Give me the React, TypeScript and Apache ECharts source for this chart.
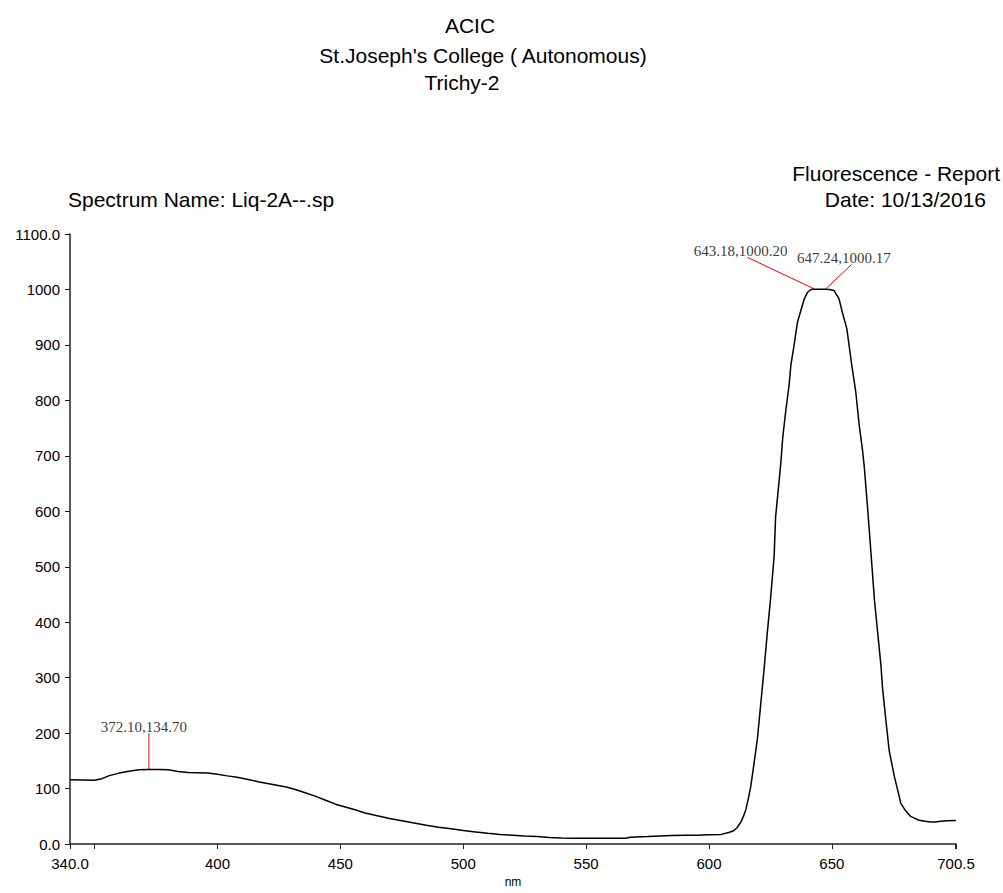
import React, { useEffect, useRef } from "react";
import * as echarts from "echarts";

// Spectrum: wavelength (nm) and intensity
const wavelengths: number[] = [
  340, 345, 350, 353, 356, 360, 364, 368, 372.1, 376, 380, 384, 388, 392, 396, 400,
  404, 408, 412, 417, 422, 428, 432, 436, 440, 444, 448, 452, 456, 460, 465, 470,
  475, 480, 485, 490, 495, 500, 505, 510, 515, 520, 525, 530, 535, 540, 545, 550,
  555, 560, 566, 568, 575, 580, 585, 590, 595, 600, 605, 608, 610, 611.5, 613, 614,
  615, 616, 617, 618, 619.7, 621, 622.4, 623.7, 625, 626.5, 627.1, 628.2, 629.2, 630,
  631.2, 632.6, 633.3, 634.6, 636, 637.1, 638.7, 640.1, 641.5, 643.18, 645, 647.24,
  649, 650.9, 652.9, 654.3, 656.1, 657, 658.1, 659.7, 661.1, 662.5, 663.2, 664.6,
  665.9, 667.3, 669, 670, 670.6, 672, 673.3, 675.4, 677.4, 678, 680, 682, 685.5, 688,
  690.2, 692, 694.4, 697, 700.5,
];
const intensities: number[] = [
  116, 115.5, 115, 118, 123.5, 128, 131.5, 134, 134.7, 134.5, 134, 131, 129, 128.5, 128, 126,
  123, 120.5, 117, 112, 108, 103, 98, 92, 86, 79, 72, 67, 62, 56, 51, 46,
  42, 38, 34, 30.5, 27.5, 24.5, 22, 19.5, 17.5, 16, 14.5, 13.5, 12, 11, 10.5, 10.4,
  10.4, 10.4, 10.4, 12.5, 13.5, 14.5, 15.5, 16, 16, 17, 17.5, 21, 24, 30, 40, 50,
  62, 82, 104, 135, 190, 250, 315, 380, 440, 519, 590, 640, 686, 733,
  780, 828, 863, 899, 941, 958, 982, 995, 1000, 1000.2, 1000.2, 1000.17,
  1000.1, 998, 983, 958, 929, 899, 863, 816, 756, 709, 679, 602,
  525, 441, 365, 320, 282, 222, 169, 122, 86, 74, 60, 50, 43, 41,
  40, 40, 41.4, 42, 42.4,
];

// Peak picks
const peakX: number[] = [372.1, 643.18, 647.24];
const peakY: number[] = [134.7, 1000.2, 1000.17];
const peakLabels: string[] = ["372.10,134.70", "643.18,1000.20", "647.24,1000.17"];
// Leader-line ends and label anchors (data coords)
const leaderEndX: number[] = [372.1, 615.6, 658];
const leaderEndY: number[] = [200, 1058, 1045];
const labelAtX: number[] = [370.1, 612.9, 654.9];
const labelAtY: number[] = [211, 1069, 1057];

// Axis ticks
const xLabelValues: number[] = [340, 400, 450, 500, 550, 600, 650, 700.5];
const xTickValues: number[] = [340, 350, 400, 450, 500, 550, 600, 650, 700, 700.5];

const titleLines: string[] = ["ACIC", "St.Joseph's College ( Autonomous)", "Trichy-2"];
const reportTitle = "Fluorescence - Report";
const reportDate = "Date: 10/13/2016";
const spectrumName = "Spectrum Name: Liq-2A--.sp";

export default function App() {
  const ref = useRef<HTMLDivElement>(null);
  useEffect(() => {
    document.body.style.margin = "0";
    if (!ref.current) return;
    const chart = echarts.init(ref.current, undefined, { renderer: "svg" });
    const sans = "Liberation Sans, Arial, sans-serif";
    const serif = "Liberation Serif, Times New Roman, serif";
    const curve = wavelengths.map((x, i) => [x, intensities[i]]);
    const leaderSeries = peakX.map((x, i) => ({
      type: "line",
      data: [
        [x, peakY[i]],
        [leaderEndX[i], leaderEndY[i]],
      ],
      symbol: "none",
      lineStyle: { color: "#ff0000", width: 1 },
      silent: true,
      z: 3,
    }));
    const txt = (text: string, x: number, y: number, align: string) => ({
      type: "text",
      x,
      y,
      style: { text, font: `21px ${sans}`, fill: "#000", align, verticalAlign: "middle" },
    });
    chart.setOption({
      animation: false,
      backgroundColor: "#ffffff",
      graphic: [
        txt(titleLines[0], 470, 25, "center"),
        txt(titleLines[1], 483, 55, "center"),
        txt(titleLines[2], 462, 82, "center"),
        txt(reportTitle, 1000, 173, "right"),
        txt(reportDate, 986, 199, "right"),
        txt(spectrumName, 68, 199, "left"),
      ],
      grid: { left: 70, right: 47, top: 234, bottom: 42, containLabel: false },
      xAxis: {
        type: "value",
        min: 340,
        max: 700.5,
        name: "nm",
        nameLocation: "middle",
        nameGap: 28,
        nameTextStyle: { fontFamily: sans, fontSize: 12, color: "#000" },
        axisLine: { lineStyle: { color: "#222", width: 1.5 } },
        axisTick: { show: true, length: 5, customValues: xTickValues, lineStyle: { color: "#222" } },
        axisLabel: {
          customValues: xLabelValues,
          margin: 12,
          fontFamily: sans,
          fontSize: 15,
          color: "#000",
          formatter: (v: number) => (v === 340 ? "340.0" : v === 700.5 ? "700.5" : String(v)),
        },
        splitLine: { show: false },
      },
      yAxis: {
        type: "value",
        min: 0,
        max: 1100,
        interval: 100,
        axisLine: { show: true, lineStyle: { color: "#222", width: 1.5 } },
        axisTick: { show: true, length: 5, lineStyle: { color: "#222" } },
        axisLabel: {
          margin: 10,
          fontFamily: sans,
          fontSize: 15,
          color: "#000",
          formatter: (v: number) => (v === 0 ? "0.0" : v === 1100 ? "1100.0" : String(v)),
        },
        splitLine: { show: false },
      },
      series: [
        {
          type: "line",
          data: curve,
          symbol: "none",
          lineStyle: { color: "#000", width: 1.5 },
          z: 4,
        },
        ...leaderSeries,
        {
          type: "scatter",
          data: labelAtX.map((x, i) => [x, labelAtY[i]]),
          symbolSize: 0,
          silent: true,
          label: {
            show: true,
            position: "inside",
            formatter: (p: any) => peakLabels[p.dataIndex],
            fontFamily: serif,
            fontSize: 15,
            color: "#000",
          },
        },
      ],
    });
    return () => chart.dispose();
  }, []);
  return <div ref={ref} style={{ width: 1003, height: 893 }} />;
}
